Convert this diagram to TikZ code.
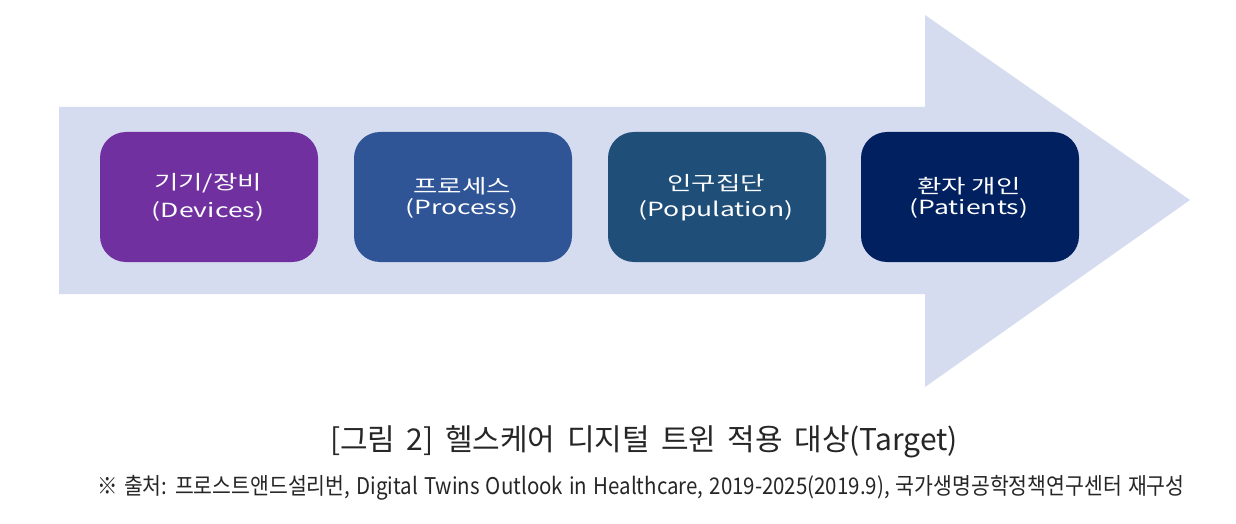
\documentclass[tikz,border=0pt]{standalone}
\usepackage{fontspec}
\setmainfont{Noto Sans CJK KR}
\newfontfamily\boxfont{Noto Sans CJK KR}[FakeStretch=1.36]
\newfontfamily\capfont{Noto Sans CJK KR}[FakeStretch=1.0, WordSpace=1.7]
\newfontfamily\srcfont{Noto Sans CJK KR}[FakeStretch=0.89, WordSpace=1.35]
\definecolor{arrowc}{HTML}{D6DCF0}
\definecolor{c1}{HTML}{7030A0}
\definecolor{c2}{HTML}{2F5597}
\definecolor{c3}{HTML}{1F4E79}
\definecolor{c4}{HTML}{002060}
\begin{document}
\begin{tikzpicture}[x=1pt,y=-1pt,
  stagebox/.style={rounded corners=26pt, minimum width=218pt, minimum height=130pt,
    inner sep=0pt},
  stagetext/.style={text=white, inner sep=0pt, font=\boxfont\fontsize{19.5}{23}\selectfont}]
\useasboundingbox (0,0) rectangle (1236,524);
\fill[white] (0,0) rectangle (1236,524);
\fill[arrowc] (59,107) -- (925,107) -- (925,15) -- (1190,200) -- (925,387) -- (925,294) -- (59,294) -- cycle;
\node[stagebox, fill=c1] (b1) at (209,197) {};
\node[stagebox, fill=c2] (b2) at (463,197) {};
\node[stagebox, fill=c3] (b3) at (717,197) {};
\node[stagebox, fill=c4] (b4) at (970,197) {};
\node[stagetext] (t1a) at (208,183) {기기/장비};
\node[stagetext] (t1b) at (208,211) {(Devices)};
\node[stagetext] (t2a) at (462,186) {프로세스};
\node[stagetext] (t2b) at (462,208) {(Process)};
\node[stagetext] (t3a) at (716,183) {인구집단};
\node[stagetext] (t3b) at (716,211) {(Population)};
\node[stagetext] (t4a) at (969,186) {환자 개인};
\node[stagetext] (t4b) at (969,208) {(Patients)};
\node[font=\capfont\fontsize{30}{34}\selectfont, text=black!85, inner sep=0pt] (cap) at (644,442) {[그림 2] 헬스케어 디지털 트윈 적용 대상(Target)};
\node[font=\srcfont\fontsize{23}{26}\selectfont, text=black!85, inner sep=0pt] (src) at (641,488) {※ 출처: 프로스트앤드설리번, Digital Twins Outlook in Healthcare, 2019-2025(2019.9), 국가생명공학정책연구센터 재구성};
\end{tikzpicture}
\end{document}
